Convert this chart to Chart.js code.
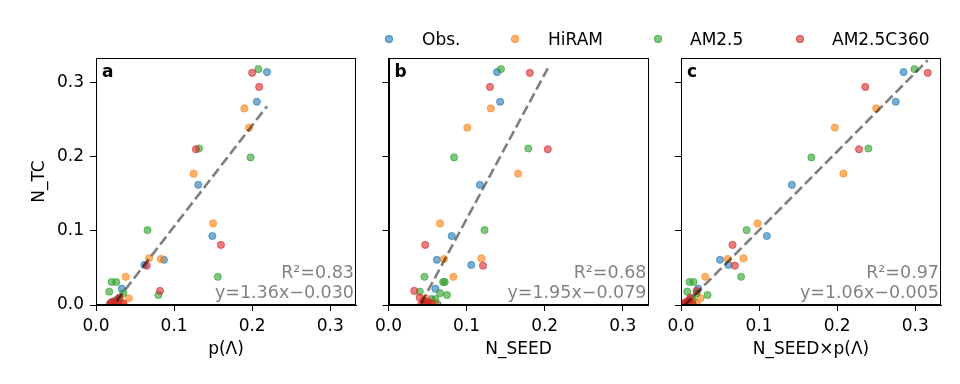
<!DOCTYPE html>
<html>
<head>
<meta charset="utf-8">
<script src="https://cdn.jsdelivr.net/npm/chart.js@4.4.0/dist/chart.umd.min.js"></script>
<style>
  body { margin: 0; background: #fff; }
  #wrap { position: relative; width: 960px; height: 384px; font-family: "DejaVu Sans"; }
  #wrap canvas { position: absolute; left: 0; top: 0; }
  .leg { position: absolute; top: 29px; font-size: 17px; line-height: 20px; color: #000; white-space: nowrap; }
  .dot { position: absolute; top: 35px; width: 8px; height: 8px; border-radius: 50%; box-sizing: border-box; border: 1px solid; }
</style>
</head>
<body>
<div id="wrap">
  <canvas id="panelA" width="960" height="384"></canvas>
  <canvas id="panelB" width="960" height="384"></canvas>
  <canvas id="panelC" width="960" height="384"></canvas>
  <div id="legend"></div>
</div>
<script>
// series
const seriesNames = ['Obs.', 'HiRAM', 'AM2.5', 'AM2.5C360'];
const seriesRGB = ['31,119,180', '255,127,14', '44,160,44', '214,39,40'];

// N_TC (y, shared by all three panels)
const obsNTC   = [0.314, 0.274, 0.162, 0.093, 0.061, 0.054, 0.022, 0.008, 0.004, 0.002, 0.001, 0.0005];
const hiramNTC = [0.265, 0.239, 0.177, 0.110, 0.063, 0.062, 0.038, 0.009, 0.005, 0.003, 0.002, 0.001];
const am25NTC  = [0.318, 0.211, 0.199, 0.101, 0.038, 0.031, 0.031, 0.018, 0.0135, 0.016, 0.008, 0.004];
const c360NTC  = [0.313, 0.294, 0.210, 0.081, 0.053, 0.019, 0.010, 0.006, 0.004, 0.002, 0.001, 0.0005];

// p(Lambda)  (panel a)
const obsP   = [0.219, 0.206, 0.131, 0.149, 0.087, 0.062, 0.033, 0.028, 0.022, 0.018, 0.025, 0.030];
const hiramP = [0.190, 0.196, 0.125, 0.150, 0.068, 0.083, 0.038, 0.042, 0.030, 0.025, 0.035, 0.020];
const am25P  = [0.208, 0.132, 0.198, 0.066, 0.156, 0.020, 0.026, 0.017, 0.080, 0.035, 0.030, 0.022];
const c360P  = [0.200, 0.209, 0.128, 0.160, 0.065, 0.082, 0.030, 0.025, 0.020, 0.035, 0.018, 0.028];

// N_SEED  (panel b)
const obsSeed   = [0.139, 0.143, 0.117, 0.081, 0.062, 0.106, 0.060, 0.055, 0.050, 0.058, 0.063, 0.052];
const hiramSeed = [0.131, 0.101, 0.166, 0.066, 0.119, 0.071, 0.083, 0.048, 0.055, 0.060, 0.045, 0.052];
const am25Seed  = [0.144, 0.179, 0.084, 0.123, 0.046, 0.072, 0.070, 0.040, 0.075, 0.066, 0.060, 0.050];
const c360Seed  = [0.181, 0.130, 0.204, 0.047, 0.121, 0.033, 0.040, 0.045, 0.050, 0.055, 0.042, 0.048];

// N_SEED x p(Lambda)  (panel c)
const obsProd   = [0.285, 0.275, 0.142, 0.110, 0.050, 0.061, 0.022, 0.012, 0.008, 0.006, 0.010, 0.014];
const hiramProd = [0.250, 0.197, 0.208, 0.098, 0.080, 0.060, 0.031, 0.025, 0.015, 0.010, 0.020, 0.006];
const am25Prod  = [0.299, 0.240, 0.167, 0.084, 0.077, 0.011, 0.016, 0.008, 0.034, 0.020, 0.015, 0.010];
const c360Prod  = [0.316, 0.236, 0.228, 0.066, 0.069, 0.020, 0.012, 0.010, 0.006, 0.004, 0.002, 0.015];

// fitted lines (end points) and labels
const fitX = [[0.015, 0.219], [0.033, 0.204], [0.004, 0.316]];
const fitY = [[-0.010, 0.268], [-0.015, 0.319], [-0.001, 0.330]];
const r2Labels = ['R\u00b2=0.83', 'R\u00b2=0.68', 'R\u00b2=0.97'];
const eqLabels = ['y=1.36x\u22120.030', 'y=1.95x\u22120.079', 'y=1.06x\u22120.005'];
const panelLetters = ['a', 'b', 'c'];
const xTitles = ['p(\u039b)', 'N_SEED', 'N_SEED\u00d7p(\u039b)'];
const axisTicks = [0.0, 0.1, 0.2, 0.3];

const ntcs = [obsNTC, hiramNTC, am25NTC, c360NTC];
const xsByPanel = [
  [obsP, hiramP, am25P, c360P],
  [obsSeed, hiramSeed, am25Seed, c360Seed],
  [obsProd, hiramProd, am25Prod, c360Prod]
];

Chart.defaults.font.family = '"DejaVu Sans"';
Chart.defaults.font.size = 17;
Chart.defaults.color = '#000';

const framePlugin = {
  id: 'frame',
  afterDraw(chart, args, o) {
    const {ctx, chartArea: a} = chart;
    ctx.save();
    ctx.strokeStyle = '#000';
    ctx.lineWidth = 1;
    ctx.strokeRect(Math.round(a.left) + 0.5, Math.round(a.top) + 0.5,
      Math.round(a.right - a.left) - 1, Math.round(a.bottom - a.top) - 1);
    ctx.fillStyle = '#000';
    ctx.font = 'bold 17px "DejaVu Sans"';
    ctx.textAlign = 'left';
    ctx.textBaseline = 'alphabetic';
    ctx.fillText(o.letter, a.left + 6, a.top + 19);
    ctx.fillStyle = 'rgba(0,0,0,0.5)';
    ctx.font = '17.5px "DejaVu Sans"';
    ctx.textAlign = 'right';
    ctx.fillText(o.r2, a.right - 2, a.bottom - 27.5);
    ctx.fillText(o.eq, a.right - 2, a.bottom - 7.5);
    ctx.restore();
  }
};

const panelBoxes = [
  {id: 'panelA', padLeft: 0, yWidth: 96, right: 356},
  {id: 'panelB', padLeft: 359.5, yWidth: 29, right: 648.5},
  {id: 'panelC', padLeft: 652, yWidth: 29, right: 941}
];

panelBoxes.forEach((box, p) => {
  const datasets = seriesNames.map((name, s) => ({
    label: name,
    data: xsByPanel[p][s].map((x, i) => ({x: x, y: ntcs[s][i]})),
    backgroundColor: 'rgba(' + seriesRGB[s] + ',0.6)',
    borderColor: 'rgba(' + seriesRGB[s] + ',0.6)',
    borderWidth: 1,
    pointRadius: 3.6,
    order: 3 - s
  }));
  datasets.push({
    type: 'line',
    label: 'fit',
    data: fitX[p].map((x, i) => ({x: x, y: fitY[p][i]})),
    borderColor: 'rgba(0,0,0,0.5)',
    borderWidth: 2.6,
    borderDash: [10, 4.3],
    pointRadius: 0,
    fill: false,
    order: -1
  });

  new Chart(document.getElementById(box.id), {
    type: 'scatter',
    data: {datasets: datasets},
    options: {
      responsive: false,
      animation: false,
      devicePixelRatio: 1,
      layout: {padding: {left: box.padLeft, right: 960 - box.right, top: 58, bottom: 0}},
      plugins: {
        legend: {display: false},
        tooltip: {enabled: false},
        frame: {letter: panelLetters[p], r2: r2Labels[p], eq: eqLabels[p]}
      },
      scales: {
        x: {
          type: 'linear',
          min: 0,
          max: 0.333,
          afterBuildTicks: s => { s.ticks = axisTicks.map(v => ({value: v})); },
          afterFit: s => { s.height = 79; },
          ticks: {padding: 5, callback: v => v.toFixed(1)},
          grid: {drawOnChartArea: false, tickLength: 6, color: '#000'},
          border: {color: '#000'},
          title: {display: true, text: xTitles[p], padding: {top: 0, bottom: 24}}
        },
        y: {
          type: 'linear',
          min: 0,
          max: 0.333,
          afterBuildTicks: s => { s.ticks = axisTicks.map(v => ({value: v})); },
          afterFit: s => { s.width = box.yWidth; },
          ticks: {padding: 6, callback: v => p === 0 ? v.toFixed(1) : ''},
          grid: {drawOnChartArea: false, tickLength: 6, color: '#000'},
          border: {color: '#000'},
          title: {display: p === 0, text: 'N_TC', padding: {top: 29.8, bottom: 0}}
        }
      }
    },
    plugins: [framePlugin]
  });
});

// legend across the top
const legendDots = [389, 515, 658, 800];
const legendText = [422, 548, 690, 832];
const legend = document.getElementById('legend');
seriesNames.forEach((name, s) => {
  const dot = document.createElement('div');
  dot.className = 'dot';
  dot.style.left = (legendDots[s] - 4) + 'px';
  dot.style.background = 'rgba(' + seriesRGB[s] + ',0.6)';
  dot.style.borderColor = 'rgba(' + seriesRGB[s] + ',0.6)';
  legend.appendChild(dot);
  const txt = document.createElement('div');
  txt.className = 'leg';
  txt.style.left = legendText[s] + 'px';
  txt.textContent = name;
  legend.appendChild(txt);
});
</script>
</body>
</html>
